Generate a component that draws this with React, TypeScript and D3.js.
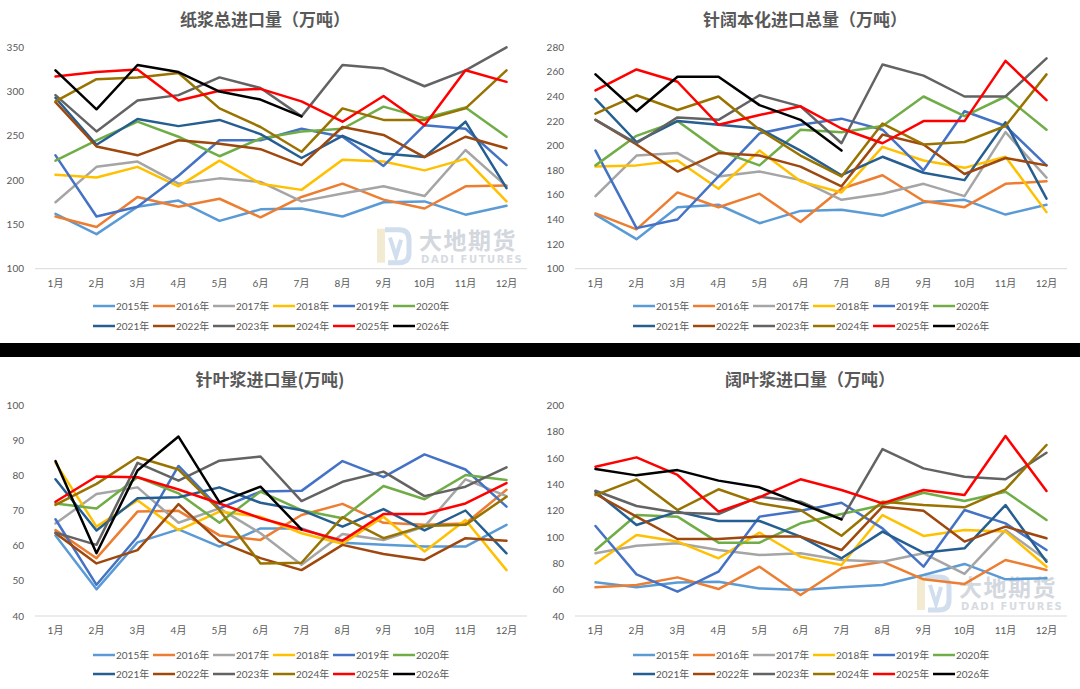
import React from 'react';
import * as d3 from 'd3';

const months = ['1月', '2月', '3月', '4月', '5月', '6月', '7月', '8月', '9月', '10月', '11月', '12月'];
const years = ['2015年', '2016年', '2017年', '2018年', '2019年', '2020年', '2021年', '2022年', '2023年', '2024年', '2025年', '2026年'];
const colors = ['#5B9BD5', '#ED7D31', '#A5A5A5', '#FFC000', '#4472C4', '#70AD47', '#255E91', '#9E480E', '#636363', '#997300', '#FF0000', '#000000'];

// 纸浆总进口量（万吨）
const totalPulp: number[][] = [
  [162, 139, 170, 177, 154, 167, 168, 159, 175, 176, 161, 171],
  [159, 147, 181, 170, 179, 158, 181, 196, 178, 168, 193, 194],
  [175, 215, 221, 196, 202, 198, 176, 185, 193, 182, 234, 193],
  [206, 203, 215, 193, 222, 196, 189, 223, 221, 211, 224, 176],
  [228, 159, 170, 205, 245, 245, 258, 249, 216, 262, 258, 217],
  [222, 245, 266, 249, 227, 247, 255, 258, 283, 270, 282, 249],
  [293, 240, 269, 261, 268, 252, 225, 250, 230, 226, 266, 191],
  [288, 238, 228, 245, 241, 235, 217, 260, 251, 226, 249, 236],
  [296, 255, 290, 296, 316, 304, 272, 330, 326, 306, 324, 350],
  [289, 314, 316, 321, 281, 260, 232, 281, 268, 268, 281, 324],
  [317, 322, 325, 290, 301, 303, 289, 266, 295, 262, 324, 311],
  [324, 280, 330, 322, 300, 291, 272],
];

// 针阔本化进口总量（万吨）
const softHardPulp: number[][] = [
  [144, 124, 150, 152, 137, 147, 148, 143, 154, 156, 144, 152],
  [145, 132, 162, 150, 161, 138, 165, 176, 155, 150, 169, 171],
  [159, 192, 194, 175, 179, 172, 156, 161, 169, 159, 211, 174],
  [183, 184, 188, 165, 196, 171, 162, 199, 188, 182, 191, 146],
  [196, 133, 140, 175, 210, 217, 222, 213, 180, 228, 216, 184],
  [184, 208, 220, 196, 184, 213, 211, 216, 240, 224, 240, 213],
  [238, 203, 220, 217, 214, 196, 176, 191, 178, 172, 219, 157],
  [221, 201, 179, 194, 192, 183, 167, 209, 201, 177, 190, 184],
  [221, 202, 223, 221, 241, 232, 202, 266, 257, 240, 240, 271],
  [226, 241, 229, 240, 213, 192, 175, 218, 201, 203, 216, 258],
  [245, 262, 252, 217, 225, 232, 214, 202, 220, 220, 269, 237],
  [258, 228, 256, 256, 233, 221, 196],
];

// 针叶浆进口量(万吨)
const softwoodPulp: number[][] = [
  [63, 47.6, 61, 64.7, 59.8, 65, 65, 60.9, 60.3, 59.8, 59.8, 66],
  [64.5, 56.5, 69.8, 70, 63, 61.7, 68.8, 72, 66.6, 66, 66.4, 76],
  [66.4, 74.8, 76.7, 66.6, 70.7, 63.6, 54.6, 63.4, 61.7, 65.5, 79, 74.2],
  [83.7, 65.5, 73, 64.5, 69.8, 68.3, 63.6, 60.6, 68.3, 58.4, 67.4, 53.1],
  [67.6, 48.9, 62.6, 82.8, 70.7, 75.5, 75.7, 84.2, 79.6, 86.1, 81.8, 71.2],
  [72.1, 70.7, 79.6, 75, 66.6, 75.5, 70.2, 67.9, 77.1, 73.3, 80.2, 78.8],
  [79, 64.4, 73.6, 73.9, 76.7, 72.3, 70.2, 65.5, 70.5, 64.4, 70.1, 57.9],
  [63.6, 55, 58.8, 71.9, 61.2, 56.5, 53.1, 60.3, 57.7, 56, 62.2, 61.5],
  [63.8, 60.3, 83.7, 78.6, 84.3, 85.5, 72.8, 78.3, 81.2, 74.2, 76.9, 82.4],
  [71.7, 77.7, 85.3, 81.8, 70.2, 55, 55.2, 68.2, 62.2, 65.7, 66, 74],
  [72.6, 79.8, 79.6, 76.1, 72.1, 67.9, 64.7, 61.5, 69.1, 69.1, 72.1, 77.9],
  [84.2, 57.9, 81.5, 91.2, 72.4, 76.9, 64.7],
];

// 阔叶浆进口量（万吨）
const hardwoodPulp: number[][] = [
  [65.6, 61.8, 65.4, 66.1, 61, 59.8, 61.8, 63.6, 71.2, 79.6, 67.9, 68.7],
  [61.8, 63.6, 69.4, 60.5, 77.5, 56, 76.3, 81.3, 67.9, 64.4, 82.6, 75],
  [87.7, 93.5, 95.3, 90.2, 86.4, 87.7, 82.6, 81.3, 87.7, 72, 105.4, 82.6],
  [80, 101.6, 96.6, 83.9, 103.4, 85.1, 78.8, 116.8, 100.9, 105.4, 104.2, 77.5],
  [108.5, 71.7, 58.5, 73.7, 115.6, 120.1, 126.2, 106.7, 77.5, 120.6, 110.5, 90.2],
  [90.2, 116.8, 115.6, 95.8, 95.8, 110.5, 117.6, 124.4, 133.8, 127.5, 134.6, 113],
  [134.6, 109.2, 119.4, 112.3, 112.3, 100.4, 83.9, 104.2, 88.2, 91.5, 124.4, 81.3],
  [132.8, 115.6, 98.6, 98.6, 100.4, 100.4, 90.2, 123.2, 120.1, 96.6, 108, 99.1],
  [135.3, 123.7, 118.6, 117.6, 130.8, 127, 113.5, 167, 152.3, 146, 144, 164.2],
  [132, 144, 120.6, 136.4, 125.7, 120.6, 101.1, 127, 124.4, 122.7, 136.4, 170.1],
  [153.6, 160.7, 147.3, 119.4, 130.3, 144, 135.9, 125.7, 135.9, 132, 176.9, 135.1],
  [151.8, 147, 151, 143, 137.9, 125.7, 113.5],
];

const titles = ['纸浆总进口量（万吨）', '针阔本化进口总量（万吨）', '针叶浆进口量(万吨)', '阔叶浆进口量（万吨）'];
const yTicks1 = [100, 150, 200, 250, 300, 350];
const yTicks2 = [100, 120, 140, 160, 180, 200, 220, 240, 260, 280];
const yTicks3 = [40, 50, 60, 70, 80, 90, 100];
const yTicks4 = [40, 60, 80, 100, 120, 140, 160, 180, 200];

const FONT = "Lato, 'Noto Sans CJK SC', sans-serif";
const CJK = "'Noto Sans CJK SC', sans-serif";
const TXT = '#595959';

interface PanelCfg {
  title: string;
  data: number[][];
  ticks: number[];
  ox: number;
  top: number;
  bottom: number;
  titleY: number;
  titleX: number;
  legendY: number[];
  watermark: boolean;
}

const rowTop = { top: 47.3, bottom: 268.7, titleY: 26, legendY: [306, 326] };
const rowBot = { top: 405.7, bottom: 616, titleY: 386, legendY: [655, 674] };

const panels: PanelCfg[] = [
  { title: titles[0], data: totalPulp, ticks: yTicks1, ox: 0, titleX: 265, watermark: true, ...rowTop },
  { title: titles[1], data: softHardPulp, ticks: yTicks2, ox: 540, titleX: 265, watermark: false, ...rowTop },
  { title: titles[2], data: softwoodPulp, ticks: yTicks3, ox: 0, titleX: 270, watermark: false, ...rowBot },
  { title: titles[3], data: hardwoodPulp, ticks: yTicks4, ox: 540, titleX: 270, watermark: true, ...rowBot },
];

function Watermark({ x, y }: { x: number; y: number }) {
  // x,y = top-left of icon
  return (
    <g opacity={0.8}>
      <path d={`M${x + 1},${y + 2} L${x + 9},${y + 2} L${x + 9},${y + 36} L${x + 1},${y + 36} Z`} fill="#f1e6c8" />
      <path
        d={`M${x + 9},${y + 3} L${x + 23},${y + 3} Q${x + 33},${y + 3} ${x + 33},${y + 13} L${x + 33},${y + 26} Q${x + 33},${y + 36} ${x + 23},${y + 36} L${x + 12},${y + 36}`}
        fill="none"
        stroke="#c6d6ea"
        strokeWidth={5}
      />
      <path d={`M${x + 14},${y + 11} L${x + 20},${y + 30} L${x + 25},${y + 13}`} fill="none" stroke="#c6d6ea" strokeWidth={4} />
      <text x={x + 43} y={y + 22} fontFamily={CJK} fontWeight={700} fontSize={23} fill="#c9ced6" letterSpacing={1.5}>
        大地期货
      </text>
      <text x={x + 45} y={y + 36} fontFamily="'DejaVu Sans', sans-serif" fontWeight={700} fontSize={10} fill="#cdd3da" letterSpacing={1.6}>
        DADI FUTURES
      </text>
    </g>
  );
}

function Panel({ cfg }: { cfg: PanelCfg }) {
  const { ox, top, bottom, data, ticks } = cfg;
  const x = d3.scaleBand<string>().domain(months).range([ox + 35, ox + 527]);
  const bw = x.bandwidth();
  const cx = (m: string) => (x(m) as number) + bw / 2;
  const y = d3.scaleLinear().domain([ticks[0], ticks[ticks.length - 1]]).range([bottom, top]);
  const line = d3
    .line<number>()
    .x((_, i) => cx(months[i]))
    .y((d) => y(d));

  return (
    <g>
      <text x={ox + cfg.titleX} y={cfg.titleY} textAnchor="middle" fontFamily={CJK} fontWeight={700} fontSize={17} fill={TXT}>
        {cfg.title}
      </text>
      {ticks.map((t) => (
        <text key={t} x={ox + 24} y={y(t)} dy="0.35em" textAnchor="end" fontFamily={FONT} fontSize={10} fill={TXT}>
          {t}
        </text>
      ))}
      <line x1={ox + 35} x2={ox + 527} y1={bottom} y2={bottom} stroke="#d9d9d9" strokeWidth={1} />
      {months.map((m) => (
        <text key={m} x={cx(m)} y={bottom + 18} textAnchor="middle" fontFamily={FONT} fontSize={10} fill={TXT}>
          {m}
        </text>
      ))}
      {cfg.watermark && <Watermark x={ox + 376} y={bottom - 42} />}
      {data.map((s, i) => (
        <path
          key={years[i]}
          d={line(s) || ''}
          fill="none"
          stroke={colors[i]}
          strokeWidth={2.5}
          strokeLinejoin="round"
          strokeLinecap="round"
        />
      ))}
      {years.map((yr, i) => {
        const col = i % 6;
        const row = Math.floor(i / 6);
        const lx = ox + 93 + col * 60;
        const ly = cfg.legendY[row];
        return (
          <g key={yr}>
            <line x1={lx} x2={lx + 22} y1={ly} y2={ly} stroke={colors[i]} strokeWidth={2.5} />
            <text x={lx + 23} y={ly} dy="0.35em" fontFamily={FONT} fontSize={10} fill={TXT}>
              {yr}
            </text>
          </g>
        );
      })}
    </g>
  );
}

export default function App() {
  return (
    <svg
      width={1080}
      height={689}
      viewBox="0 0 1080 689"
      style={{ position: 'absolute', left: 0, top: 0, background: '#ffffff' }}
    >
      <rect x={0} y={0} width={1080} height={689} fill="#ffffff" />
      {panels.map((p, i) => (
        <Panel key={i} cfg={p} />
      ))}
      <rect x={0} y={343} width={1080} height={14} fill="#000000" />
    </svg>
  );
}
